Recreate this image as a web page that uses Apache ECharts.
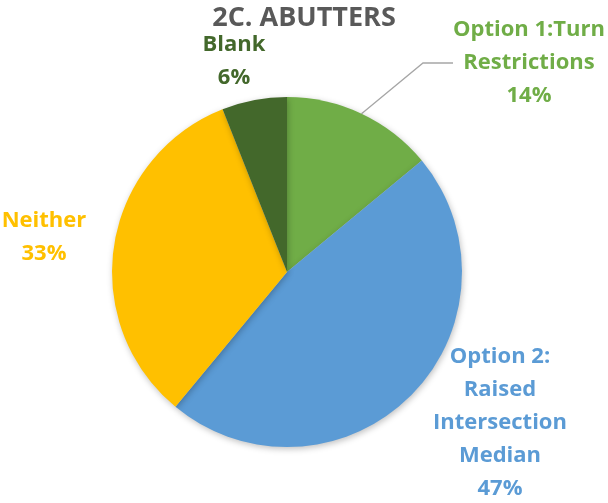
<!DOCTYPE html>
<html>
<head>
<meta charset="utf-8">
<script src="https://cdn.jsdelivr.net/npm/echarts@6/dist/echarts.min.js"></script>
<style>
  html, body { margin: 0; padding: 0; background: #fff; }
  #chart { width: 608px; height: 503px; }
</style>
</head>
<body>
<div id="chart"></div>
<script>
(function () {
  "use strict";

  // Data
  const categories = ['Option 1:Turn\nRestrictions', 'Option 2:\nRaised\nIntersection\nMedian', 'Neither', 'Blank'];
  const values = [14, 47, 33, 6];
  const colors = ['#70AD47', '#5B9BD5', '#FFC000', '#43682B'];

  // Label anchor points (centre of each label block)
  const labelPos = [
    { x: 529, y: 63 },
    { x: 500, y: 423 },
    { x: 44, y: 237 },
    { x: 234, y: 61 }
  ];

  const chart = echarts.init(document.getElementById('chart'));
  chart.setOption({
    animation: false,
    title: {
      text: '2C. ABUTTERS',
      left: 'center',
      top: 0,
      textStyle: { fontFamily: 'Open Sans', fontSize: 27, fontWeight: 'bold', color: '#595959' }
    },
    series: [{
      type: 'pie',
      center: [287, 272],
      radius: 175,
      startAngle: 90,
      clockwise: true,
      itemStyle: {
        shadowBlur: 6,
        shadowOffsetX: 1,
        shadowOffsetY: 2,
        shadowColor: 'rgba(0,0,0,0.25)'
      },
      label: {
        show: true,
        position: 'outside',
        formatter: '{b}\n{c}%',
        fontFamily: 'Open Sans',
        fontSize: 22,
        fontWeight: 'bold',
        lineHeight: 33,
        align: 'center',
        overflow: 'none',
        edgeDistance: 0
      },
      labelLine: { show: false },
      labelLayout: function (params) {
        const p = labelPos[params.dataIndex];
        return { x: p.x, y: p.y, align: 'center', verticalAlign: 'middle' };
      },
      data: categories.map((name, i) => ({
        name: name,
        value: values[i],
        itemStyle: { color: colors[i] },
        label: { color: colors[i] },
        labelLine: i === 0 ? { show: true, lineStyle: { color: '#A6A6A6', width: 1.3 } } : { show: false }
      }))
    }]
  });
})();
</script>
</body>
</html>
